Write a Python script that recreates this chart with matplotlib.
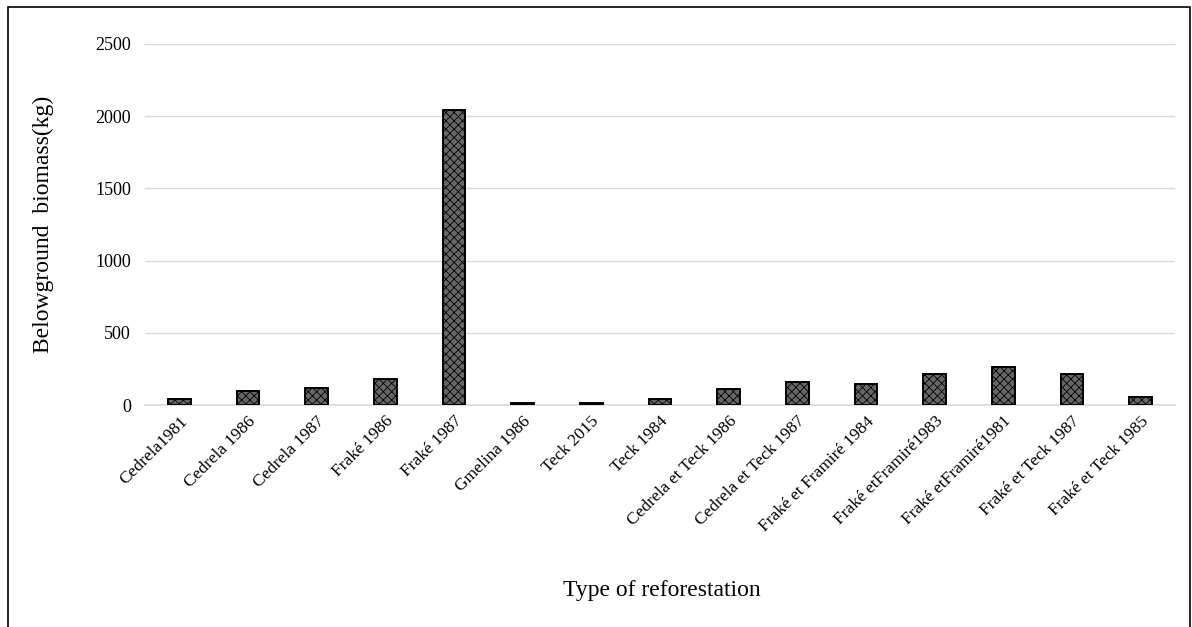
import matplotlib
matplotlib.use("Agg")
from matplotlib import pyplot as plt
from matplotlib.patches import Rectangle

plt.rcParams['font.family'] = ['Liberation Serif', 'DejaVu Serif']
plt.rcParams['hatch.color'] = 'white'
plt.rcParams['hatch.linewidth'] = 0.6

# reforestation types and belowground biomass (kg)
categories = ["Cedrela1981", "Cedrela 1986", "Cedrela 1987", "Fraké 1986", "Fraké 1987",
              "Gmelina 1986", "Teck 2015", "Teck 1984", "Cedrela et Teck 1986",
              "Cedrela et Teck 1987", "Fraké et Framiré 1984", "Fraké etFramiré1983",
              "Fraké etFramiré1981", "Fraké et Teck 1987", "Fraké et Teck 1985"]
biomass = [42, 95, 120, 182, 2040, 14, 14, 42, 110, 160, 148, 212, 263, 212, 58]
yticks = [0, 500, 1000, 1500, 2000, 2500]

fig = plt.figure(figsize=(11.92, 6.27), dpi=100)
ax = fig.add_axes([0.1216, 0.354, 0.864, 0.576])

x = range(len(categories))
ax.bar(x, biomass, width=0.33, color='#666666', edgecolor='black',
       linewidth=1.4, hatch='xxxx', zorder=3)

ax.set_ylim(0, 2500)
ax.set_xlim(-0.5, len(categories) - 0.5)
ax.set_yticks(yticks)
ax.set_yticklabels([str(v) for v in yticks], fontsize=13)
ax.set_xticks(list(x))
ax.set_xticklabels(categories, rotation=45, ha='right', rotation_mode='anchor', fontsize=12.5)
ax.tick_params(axis='y', length=0, pad=10)
ax.tick_params(axis='x', length=0, pad=6)
ax.grid(axis='y', color='#d9d9d9', linewidth=1, zorder=0)
for s in ['top', 'right', 'left']:
    ax.spines[s].set_visible(False)
ax.spines['bottom'].set_color('#d9d9d9')
ax.spines['bottom'].set_linewidth(1.2)

ax.set_ylabel("Belowground  biomass(kg)", fontsize=17)
ax.yaxis.set_label_coords(-0.088, 0.5)
fig.text(0.555, 0.058, "Type of reforestation", fontsize=17, ha='center', va='center')

# outer frame
fig.patches.append(Rectangle((0.007, -0.1), 0.991, 1.089, transform=fig.transFigure,
                             fill=False, edgecolor='black', linewidth=1.2))

fig.savefig("out.png", dpi=100)
